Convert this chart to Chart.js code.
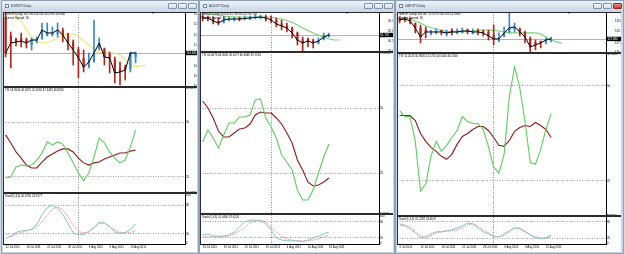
<!DOCTYPE html>
<html>
<head>
<meta charset="utf-8">
<title>EURJPY / AUDJPY / GBPJPY Daily</title>
<script src="https://cdn.jsdelivr.net/npm/chart.js@4.4.1/dist/chart.umd.min.js"></script>
<style>
  html, body { margin: 0; padding: 0; }
  body { width: 625px; height: 254px; background: #d3dde9; position: relative; overflow: hidden;
         font-family: "Liberation Sans", Arial, sans-serif; }
  .win { position: absolute; top: 0; height: 254px; box-sizing: border-box;
         border: 1px solid #8fa1b6; background: #c8d6e6; }
  .bar { position: absolute; left: 0; right: 0; top: 0; height: 10px;
         background: linear-gradient(#eef3f9, #cbd8e7); }
  .bar span { position: absolute; left: 9px; top: 3px; font-size: 3.2px; line-height: 4px; color: #1e2a3a; }
  .ico { position: absolute; left: 3px; top: 3px; width: 4px; height: 4px; box-sizing: border-box;
         border: 1px solid #6f86a3; background: #fff; }
  .btn { position: absolute; top: 2px; width: 9px; height: 6px; box-sizing: border-box;
         border: 1px solid #8093aa; border-radius: 1px; background: linear-gradient(#f6f8fb, #d3dde9); }
  .btn.on { background: linear-gradient(#ec8f82, #c6402f); border-color: #8a2a20; }
  canvas { position: absolute; top: 11px; background: #fff; }
  .leg { position: absolute; font-size: 2.8px; line-height: 3.5px; white-space: nowrap; color: #000; }
  .shift { position: absolute; top: 12px; width: 0; height: 0;
           border-left: 1.5px solid transparent; border-right: 1.5px solid transparent; border-top: 2px solid #000; }
</style>
</head>
<body>

<div class="win" style="left:1px;width:198px">
  <div class="bar"><div class="ico"></div><span>EURJPY,Daily</span>
    <div class="btn" style="right:21px"></div><div class="btn" style="right:11px"></div><div class="btn" style="right:1px"></div></div>
  <canvas id="c1" width="194" height="240" style="left:1px"></canvas>
</div>
<div class="win" style="left:199px;width:196px">
  <div class="bar"><div class="ico"></div><span>AUDJPY,Daily</span>
    <div class="btn" style="right:21px"></div><div class="btn" style="right:11px"></div><div class="btn" style="right:1px"></div></div>
  <canvas id="c2" width="193" height="240" style="left:0px"></canvas>
</div>
<div class="win" style="left:395px;width:229px">
  <div class="bar"><div class="ico"></div><span>GBPJPY,Daily</span>
    <div class="btn" style="right:21px"></div><div class="btn" style="right:11px"></div><div class="btn on" style="right:1px"></div></div>
  <canvas id="c3" width="224" height="240" style="left:1px"></canvas>
</div>

<script>
// ---------- EURJPY ----------
const eurDates = ['12 Jul 2011','13 Jul 2011','14 Jul 2011','15 Jul 2011','18 Jul 2011','19 Jul 2011','20 Jul 2011',
  '21 Jul 2011','22 Jul 2011','25 Jul 2011','26 Jul 2011','27 Jul 2011','28 Jul 2011','29 Jul 2011','1 Aug 2011',
  '2 Aug 2011','3 Aug 2011','4 Aug 2011','5 Aug 2011','8 Aug 2011','9 Aug 2011','10 Aug 2011','11 Aug 2011',
  '12 Aug 2011','15 Aug 2011','16 Aug 2011','17 Aug 2011','18 Aug 2011','19 Aug 2011','22 Aug 2011','23 Aug 2011',
  '24 Aug 2011','25 Aug 2011','26 Aug 2011','29 Aug 2011'];
const eurTickDates = ['12 Jul 2011','18 Jul 2011','22 Jul 2011','28 Jul 2011','3 Aug 2011','9 Aug 2011','15 Aug 2011'];
const eurOpen  = [113.90,112.20,111.90,112.00,111.85,111.40,111.70,111.90,112.20,112.30,112.40,112.70,112.30,
                  111.60,110.90,110.10,109.40,109.80,111.10,111.00,110.50,110.00,109.20,109.30,109.20,110.30];
const eurHigh  = [114.31,112.56,112.01,112.47,112.01,112.01,112.10,113.39,113.39,113.02,113.39,112.93,112.47,
                  111.82,111.18,110.90,110.63,113.66,112.01,111.09,110.72,110.26,109.80,109.52,110.72,110.72];
const eurLow   = [110.26,109.25,111.27,111.18,111.09,110.90,111.55,112.01,112.28,112.19,112.10,111.64,110.90,
                  109.52,108.33,108.88,109.25,109.80,110.90,109.52,108.79,107.87,107.68,108.14,108.88,109.71];
const eurClose = [110.63,111.55,111.64,111.73,111.55,111.82,111.82,112.74,112.47,112.47,112.74,112.28,111.55,
                  110.90,110.17,109.34,109.80,110.63,111.55,110.26,110.17,108.79,108.88,109.06,110.63,110.63];
const eurMA    = [115.04,114.51,114.03,113.51,112.83,112.04,111.68,111.57,111.61,111.75,111.99,112.20,112.39,
                  112.38,112.17,111.75,111.37,111.02,110.68,110.63,110.63,110.63,110.44,110.03,109.51,109.38,109.42,109.52];
const eurBid = 110.63;
const eurPriceTicks = [114.215,113.255,112.295,111.335,109.415,108.455,107.530];
const eurTsi       = [24.5,25.0,29.5,30.4,30.0,30.4,32.7,35.9,41.0,39.6,41.0,40.0,35.9,31.4,26.8,23.2,26.8,34.1,
                      42.8,40.5,36.4,33.6,31.4,32.7,38.7,46.4];
const eurTsiSignal = [44.2,40.5,36.4,33.6,30.4,29.1,29.1,31.8,34.1,35.5,36.8,37.8,37.8,36.4,33.6,31.4,30.4,31.4,
                      31.8,33.2,34.1,35.0,35.9,35.9,36.8,37.3];
const eurTsiTicks = [65.6297,50,25,17.6393];
const eurStoch       = [10.1,15.1,23.0,26.3,26.9,29.6,40.0,59.8,74.3,80.0,73.1,60.4,42.0,21.9,18.0,18.8,25.3,33.3,
                        44.5,42.2,35.4,23.4,21.3,22.8,29.4,40.7];
const eurStochSignal = [21.1,14.5,18.8,23.2,26.9,29.0,33.3,44.5,58.6,70.6,76.0,70.2,55.7,38.5,25.5,22.1,23.8,32.5,
                        41.6,42.8,35.2,28.6,22.1,22.1,22.6,27.0];

// ---------- AUDJPY ----------
const audDates = ['13 Jul 2011','14 Jul 2011','15 Jul 2011','18 Jul 2011','19 Jul 2011','20 Jul 2011',
  '21 Jul 2011','22 Jul 2011','25 Jul 2011','26 Jul 2011','27 Jul 2011','28 Jul 2011','29 Jul 2011','1 Aug 2011',
  '2 Aug 2011','3 Aug 2011','4 Aug 2011','5 Aug 2011','8 Aug 2011','9 Aug 2011','10 Aug 2011','11 Aug 2011',
  '12 Aug 2011','15 Aug 2011','16 Aug 2011','17 Aug 2011','18 Aug 2011','19 Aug 2011','22 Aug 2011','23 Aug 2011',
  '24 Aug 2011','25 Aug 2011','26 Aug 2011','29 Aug 2011'];
const audTickDates = ['13 Jul 2011','19 Jul 2011','25 Jul 2011','29 Jul 2011','4 Aug 2011','10 Aug 2011','16 Aug 2011'];
const audOpen  = [85.70,85.50,85.30,84.70,84.40,84.90,85.00,85.30,85.10,85.20,85.30,85.40,85.60,85.40,84.90,
                  84.10,83.70,83.20,82.20,80.80,80.90,80.60,80.10,80.80,81.40];
const audHigh  = [85.97,85.76,85.55,85.34,85.55,85.55,85.55,85.55,85.76,85.76,85.97,85.97,85.97,85.76,85.34,
                  84.92,84.29,83.45,82.40,81.35,81.14,80.93,81.14,82.19,82.19];
const audLow   = [84.71,84.71,84.08,83.87,84.29,84.71,84.71,84.71,84.92,84.92,85.13,85.13,84.71,84.29,83.45,
                  82.82,82.40,81.14,79.67,77.99,79.25,79.04,79.88,80.72,81.35];
const audClose = [85.34,85.34,84.71,84.29,84.92,85.13,85.13,85.13,85.24,85.34,85.45,85.55,85.34,84.92,84.08,
                  83.66,83.24,82.19,80.72,80.09,80.51,80.09,80.51,81.35,81.77];
const audMA    = [86.39,86.18,86.08,85.97,85.76,85.66,85.55,85.55,85.55,85.55,85.55,85.55,85.55,85.55,85.34,
                  85.13,84.82,84.40,83.87,83.24,82.72,82.19,81.77,81.35,80.93,80.72,80.72];
const audBid = 81.77;
const audPriceTicks = [84.740,82.633,80.527,78.420];
const audTsi       = [37.07,41.69,38.61,34.76,39.76,44.38,44.38,46.69,46.69,47.46,53.22,53.61,46.30,42.84,38.61,
                      32.07,29.38,26.30,18.61,14.76,14.76,18.61,25.15,31.30,36.30];
const audTsiSignal = [52.84,50.15,46.30,41.30,39.00,39.00,40.53,42.07,42.46,43.99,47.46,48.61,48.22,48.22,46.30,
                      43.99,40.53,36.69,30.15,26.30,21.69,20.15,20.53,21.69,23.23];
const audTsiTicks = [71.2864,50,25,9.4512];
const audStoch       = [31,35,27,27,27,31,42,61,80,87,87,84,72,50,20,12,9,9,9,5,12,20,27,35,42];
const audStochSignal = [24,24,24,24,24,27,35,46,61,76,84,87,80,61,42,27,16,12,9,9,9,12,16,24,31];

// ---------- GBPJPY ----------
const gbpDates = ['6 Jul 2011','7 Jul 2011','8 Jul 2011','11 Jul 2011'].concat(eurDates, ['30 Aug 2011']);
const gbpTickDates = ['6 Jul 2011','12 Jul 2011','18 Jul 2011','22 Jul 2011','28 Jul 2011','3 Aug 2011','9 Aug 2011','15 Aug 2011'];
const gbpOpen  = [130.25,130.30,130.10,129.60,129.10,128.90,128.50,128.55,128.80,128.40,128.90,128.55,128.60,
                  128.90,128.50,128.80,128.70,128.60,128.30,127.70,128.20,128.70,129.00,129.00,128.60,127.90,
                  127.50,127.60,127.50,127.70];
const gbpHigh  = [130.34,130.34,130.23,129.67,129.44,129.22,128.88,129.00,128.88,128.88,129.00,129.00,129.11,
                  129.00,129.00,129.00,128.88,128.88,129.44,128.55,129.22,130.79,129.67,129.11,128.77,128.10,
                  127.76,127.65,127.99,128.10];
const gbpLow   = [129.67,129.78,129.56,128.55,127.43,127.99,128.32,128.44,128.32,128.21,128.32,128.44,128.55,
                  128.44,128.44,128.32,128.21,127.76,127.20,127.54,128.10,128.55,128.66,128.21,127.43,126.42,
                  126.64,126.87,127.32,127.54];
const gbpClose = [130.00,130.12,129.89,129.11,128.10,128.66,128.66,128.66,128.66,128.55,128.66,128.66,128.77,
                  128.77,128.66,128.66,128.55,128.21,127.88,127.88,128.55,129.11,129.22,128.66,128.10,126.98,
                  127.20,127.43,127.76,127.88];
const gbpMA    = [130.23,130.17,130.12,129.89,129.67,129.33,129.16,128.99,128.83,128.72,128.66,128.66,128.66,
                  128.72,128.77,128.83,128.88,128.88,128.83,128.77,128.66,128.55,128.55,128.55,128.55,128.55,
                  128.55,128.44,128.10,127.76,127.54,127.43];
const gbpBid = 127.88;
const gbpPriceTicks = [129.890,128.770,127.430,126.420];
const gbpTsi       = [43.47,41.91,41.91,35.38,22.33,24.16,31.47,35.38,32.77,34.34,36.42,38.25,41.91,40.60,40.08,
                      40.08,38.51,34.08,28.60,27.03,31.99,47.13,54.96,49.48,40.60,29.90,29.38,33.29,38.51,42.69];
const gbpTsiSignal = [42.17,42.17,42.17,40.86,37.47,35.38,33.82,32.77,31.47,30.68,31.99,34.60,36.69,37.47,38.51,
                      39.30,39.30,38.25,36.42,34.34,34.08,35.64,38.00,39.04,39.56,39.30,40.34,39.56,38.51,36.42];
const gbpTsiTicks = [58.3460,50,25,15.7930];
const gbpStoch       = [68.6,65.0,54.2,39.7,21.7,25.3,36.1,43.3,43.3,46.9,50.5,57.8,65.0,75.8,72.2,57.8,43.3,36.1,
                        25.3,25.3,36.1,46.9,57.8,54.2,43.3,32.5,21.7,18.1,21.7,31.2];
const gbpStochSignal = [72.2,68.6,61.4,46.9,28.9,21.7,28.9,39.7,43.3,46.9,46.9,50.5,57.8,68.6,72.2,65.0,50.5,39.7,
                        28.9,25.3,28.9,43.3,57.8,57.8,46.9,32.5,25.3,21.7,21.7,24.5];

const stochTicks = [100,80,20,0];

Chart.defaults.font.family = '"Liberation Sans", Arial, sans-serif';
Chart.defaults.font.size = 2.8;
Chart.defaults.color = '#000';

const RED = '#b3261e', BLUE = '#3a88cf', NONE = 'rgba(0,0,0,0)';

// bid line, pane separators and frame like the terminal draws them
const mtFrame = {
  id: 'mtFrame',
  beforeDatasetsDraw(chart, args, opts) {
    const {ctx, chartArea: a} = chart;
    const y = Math.round(chart.scales.yP.getPixelForValue(opts.bid)) + 0.5;
    ctx.save();
    ctx.strokeStyle = '#b5b5b5';
    ctx.lineWidth = 1;
    ctx.beginPath(); ctx.moveTo(a.left, y); ctx.lineTo(a.right, y); ctx.stroke();
    ctx.restore();
  },
  afterDraw(chart, args, opts) {
    const {ctx, chartArea: a} = chart;
    ctx.save();
    ctx.fillStyle = '#2b2b2b';
    ['yT', 'yS'].forEach(id => {
      const t = Math.round(chart.scales[id].top);
      ctx.fillRect(a.left, t - 1, chart.width - a.left, 2);
    });
    ctx.fillRect(a.left, a.top, chart.width - a.left, 1);
    ctx.fillRect(a.left, a.top, 1, a.height);
    const y = chart.scales.yP.getPixelForValue(opts.bid);
    ctx.fillStyle = '#000';
    ctx.fillRect(a.right + 1, y - 2.2, chart.width - a.right - 1, 4.4);
    ctx.fillStyle = '#fff';
    ctx.font = '2.8px "Liberation Sans", Arial, sans-serif';
    ctx.textBaseline = 'middle';
    ctx.fillText(opts.bid.toFixed(3), a.right + 1.5, y + 0.2);
    ctx.restore();
  }
};

function paneAxis(w, weight, min, max, ticks, levels, fmt) {
  return {
    position: 'right', stack: 'pane', stackWeight: weight, min: min, max: max,
    afterBuildTicks: s => { s.ticks = ticks.map(v => ({value: v})); },
    afterFit: s => { s.width = w.axisW; s.paddingTop = 0; s.paddingBottom = 0; },
    ticks: { autoSkip: false, padding: 1, callback: fmt },
    grid: { drawTicks: false, color: c => (c.tick && levels.includes(c.tick.value)) ? '#9c9c9c' : NONE },
    border: { color: '#000', width: 1, dash: [1, 1.5] }
  };
}

function addText(x, y, text) {
  const d = document.createElement('div');
  d.className = 'leg';
  d.style.left = x + 'px';
  d.style.top = y + 'px';
  d.textContent = text;
  document.body.appendChild(d);
}

function buildWindow(w) {
  const colors = w.close.map((c, i) => c >= w.open[i] ? BLUE : RED);
  const wicks = w.high.map((h, i) => [w.low[i], h]);
  const bodies = w.open.map((o, i) => [o, w.close[i]]);
  const sep = w.dates.indexOf('1 Aug 2011');
  const canvas = document.getElementById(w.id);

  const chart = new Chart(canvas, {
    type: 'bar',
    data: {
      labels: w.dates,
      datasets: [
        {type: 'line', data: w.ma, borderColor: w.maColor, borderWidth: 1.2, pointRadius: 0, yAxisID: 'yP', order: 4},
        {type: 'bar', data: wicks, backgroundColor: colors, barThickness: 1, grouped: false, yAxisID: 'yP', order: 3},
        {type: 'bar', data: bodies, backgroundColor: colors, barThickness: 1.5, grouped: false, yAxisID: 'yP', order: 3},
        {type: 'line', data: w.close, borderColor: '#000', borderWidth: 1, pointRadius: 0, yAxisID: 'yP', order: 1},
        {type: 'line', data: w.tsiSignal, borderColor: '#8b1a1a', borderWidth: 1.1, pointRadius: 0, yAxisID: 'yT', order: 2},
        {type: 'line', data: w.tsi, borderColor: '#5ccf5c', borderWidth: 1.1, pointRadius: 0, yAxisID: 'yT', order: 1},
        {type: 'line', data: w.stochSignal, borderColor: '#d46a6a', borderWidth: 0.9, borderDash: [1, 1], pointRadius: 0, yAxisID: 'yS', order: 2},
        {type: 'line', data: w.stoch, borderColor: '#84c3c6', borderWidth: 1, pointRadius: 0, yAxisID: 'yS', order: 1}
      ]
    },
    options: {
      responsive: false,
      animation: false,
      devicePixelRatio: 1,
      layout: { padding: 0 },
      plugins: { legend: { display: false }, tooltip: { enabled: false }, mtFrame: { bid: w.bid } },
      scales: {
        x: {
          offset: true,
          afterFit: s => { s.height = 8; s.paddingLeft = 0; s.paddingRight = 0; },
          ticks: {
            autoSkip: false, maxRotation: 0, minRotation: 0, align: 'start', padding: 1.5,
            callback: (v, i) => w.tickDates.includes(w.dates[i]) ? w.dates[i] : ''
          },
          grid: { offset: false, drawTicks: false, color: c => c.index === sep ? '#8a8a8a' : NONE },
          border: { color: '#000', dash: [1, 1.5] }
        },
        yP: Object.assign(paneAxis(w, w.weights[0], w.priceMin, w.priceMax, w.priceTicks, [], v => v.toFixed(3)),
                          { grid: { display: false } }),
        yT: paneAxis(w, w.weights[1], w.tsiMin, w.tsiMax, w.tsiTicks, [50, 25],
                     v => (v === 50 || v === 25) ? String(v) : v.toFixed(4)),
        yS: paneAxis(w, w.weights[2], w.stochMin, w.stochMax, stochTicks, [80, 20], v => String(v))
      }
    },
    plugins: [mtFrame]
  });

  const box = canvas.getBoundingClientRect();
  const x0 = box.left + chart.chartArea.left + 2;
  addText(x0, box.top + chart.chartArea.top + 1, w.legend[0]);
  addText(x0, box.top + chart.chartArea.top + 4.5, w.legend[1]);
  addText(x0, box.top + chart.scales.yT.top + 1.5, w.legend[2]);
  addText(x0, box.top + chart.scales.yS.top + 1.5, w.legend[3]);

  const s = document.createElement('div');
  s.className = 'shift';
  s.style.left = (box.left + chart.scales.x.getPixelForValue(w.ma.length + 0.5) - 1.5) + 'px';
  document.body.appendChild(s);
}

buildWindow({
  id: 'c1', axisW: 12, weights: [75, 106, 51],
  dates: eurDates, tickDates: eurTickDates,
  open: eurOpen, high: eurHigh, low: eurLow, close: eurClose, ma: eurMA, maColor: '#efe683',
  bid: eurBid, priceTicks: eurPriceTicks, priceMin: 107.50, priceMax: 114.40,
  tsi: eurTsi, tsiSignal: eurTsiSignal, tsiTicks: eurTsiTicks, tsiMin: 17.64, tsiMax: 66.10,
  stoch: eurStoch, stochSignal: eurStochSignal, stochMin: -1, stochMax: 105,
  legend: ['EURJPY,Daily  110.760 111.024 110.595 110.800', 'Current Spread: 16',
           'TSI 54.9945 46.6275 25.0562 47.6432 46.8305', 'Stoch(5,3,3) 40.6756 23.7077']
});
buildWindow({
  id: 'c2', axisW: 14, weights: [40, 162, 30],
  dates: audDates, tickDates: audTickDates,
  open: audOpen, high: audHigh, low: audLow, close: audClose, ma: audMA, maColor: '#7bd67b',
  bid: audBid, priceTicks: audPriceTicks, priceMin: 78.20, priceMax: 86.60,
  tsi: audTsi, tsiSignal: audTsiSignal, tsiTicks: audTsiTicks, tsiMin: 9.38, tsiMax: 71.68,
  stoch: audStoch, stochSignal: audStochSignal, stochMin: -3, stochMax: 110,
  legend: ['AUDJPY,Daily  80.635 81.790 80.272 81.765', 'Current Spread: 18',
           'TSI 62.0679 44.0508 26.1077 46.6048 35.7533', 'Stoch(5,3,3) 41.0440 37.6120']
});
buildWindow({
  id: 'c3', axisW: 15, weights: [41, 163, 28],
  dates: gbpDates, tickDates: gbpTickDates,
  open: gbpOpen, high: gbpHigh, low: gbpLow, close: gbpClose, ma: gbpMA, maColor: '#7bd67b',
  bid: gbpBid, priceTicks: gbpPriceTicks, priceMin: 126.30, priceMax: 130.90,
  tsi: gbpTsi, tsiSignal: gbpTsiSignal, tsiTicks: gbpTsiTicks, tsiMin: 15.79, tsiMax: 58.60,
  stoch: gbpStoch, stochSignal: gbpStochSignal, stochMin: -1, stochMax: 101,
  legend: ['GBPJPY,Daily  126.907 127.974 126.705 127.880', 'Current Spread: 16',
           'TSI 55.2023 40.9826 11.5720 44.5440 40.1000', 'Stoch(5,3,3) 31.2187 24.4647']
});
</script>
</body>
</html>
